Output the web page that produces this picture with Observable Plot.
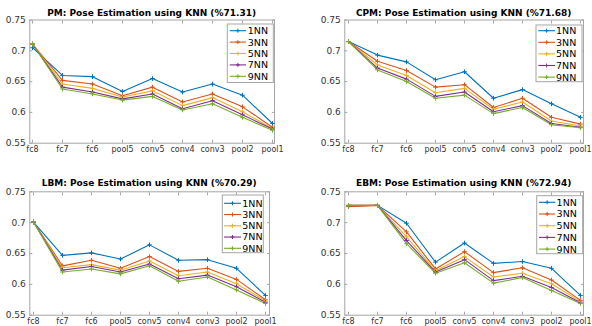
<!DOCTYPE html>
<html><head><meta charset="utf-8">
<script src="https://cdn.jsdelivr.net/npm/d3@7"></script>
<script src="https://cdn.jsdelivr.net/npm/@observablehq/plot@0.6"></script>
<style>
body{margin:0;background:#fff;}
#wrap{position:relative;width:592px;height:326px;overflow:hidden;background:#fff;}
#wrap svg{position:absolute;}
</style></head><body><div id="wrap"></div>
<script>
const layers = ["fc8","fc7","fc6","pool5","conv5","conv4","conv3","pool2","pool1"];
const series = ["1NN","3NN","5NN","7NN","9NN"];
const colors = ["#0072BD","#D95319","#EDB120","#7E2F8E","#77AC30"];
const yTicks = [0.55,0.6,0.65,0.7,0.75];
const titles = [
  "PM: Pose Estimation using KNN (%71.31)",
  "CPM: Pose Estimation using KNN (%71.68)",
  "LBM: Pose Estimation using KNN (%70.29)",
  "EBM: Pose Estimation using KNN (%72.94)"
];
// rows: 1NN, 3NN, 5NN, 7NN, 9NN ; columns follow layers
const pmValues = [
  [0.705,0.660,0.658,0.634,0.655,0.633,0.646,0.628,0.582],
  [0.711,0.652,0.646,0.627,0.641,0.617,0.630,0.609,0.576],
  [0.711,0.646,0.639,0.625,0.635,0.611,0.624,0.601,0.574],
  [0.711,0.641,0.633,0.622,0.630,0.606,0.619,0.596,0.573],
  [0.711,0.638,0.630,0.620,0.626,0.604,0.614,0.592,0.571]
];
const cpmValues = [
  [0.715,0.693,0.682,0.653,0.666,0.623,0.637,0.614,0.592],
  [0.715,0.683,0.668,0.641,0.645,0.608,0.623,0.592,0.581],
  [0.715,0.677,0.660,0.632,0.639,0.605,0.617,0.586,0.578],
  [0.715,0.672,0.654,0.626,0.633,0.601,0.611,0.582,0.576],
  [0.715,0.669,0.650,0.623,0.628,0.598,0.608,0.580,0.575]
];
const lbmValues = [
  [0.701,0.647,0.651,0.641,0.664,0.639,0.640,0.626,0.582],
  [0.701,0.630,0.639,0.626,0.645,0.621,0.626,0.608,0.575],
  [0.701,0.627,0.632,0.623,0.638,0.614,0.620,0.601,0.573],
  [0.701,0.623,0.629,0.620,0.633,0.609,0.615,0.596,0.571],
  [0.701,0.620,0.625,0.617,0.630,0.605,0.612,0.591,0.569]
];
const ebmValues = [
  [0.727,0.728,0.699,0.636,0.667,0.634,0.637,0.626,0.582],
  [0.726,0.728,0.685,0.625,0.653,0.619,0.627,0.607,0.574],
  [0.728,0.728,0.677,0.622,0.645,0.612,0.618,0.601,0.572],
  [0.728,0.728,0.671,0.620,0.640,0.606,0.613,0.595,0.570],
  [0.728,0.728,0.666,0.618,0.635,0.602,0.611,0.590,0.569]
];
const panelValues = [pmValues, cpmValues, lbmValues, ebmValues];

// layout (pixels)
const layout = [
  {left:0,   top:0,   mL:29.3, mR:22,  mT:19.5, mB:20.3, titleY:16,   lg:{x:227.3,y:24,  w:46, h:58.5, y0:30.7, dy:11.4, l0:229.8, l1:246, tx:247.8}},
  {left:296, top:0,   mL:48.3, mR:9,   mT:19.5, mB:20.3, titleY:16,   lg:{x:240,  y:25,  w:46, h:56.7, y0:30.7, dy:11.6, l0:242.3, l1:259, tx:260}},
  {left:0,   top:163, mL:29.3, mR:27,  mT:28.3, mB:11.3, titleY:23.3, lg:{x:222.3,y:32,  w:41, h:57.7, y0:40.3, dy:11.25,l0:224, l1:241, tx:242.3}},
  {left:296, top:163, mL:48.3, mR:9,   mT:28.3, mB:11.3, titleY:23.3, lg:{x:240.7,y:32.7,w:46, h:58,   y0:39.3, dy:11.7, l0:243, l1:259.3, tx:260.6}}
];
const axisGray = "#a6a6a6";
const textGray = "#333333";
const font = "DejaVu Sans";
const wrap = document.getElementById("wrap");

panelValues.forEach((values, pi) => {
  const L = layout[pi];
  const data = [];
  values.forEach((row, si) => row.forEach((v, li) => data.push({layer: layers[li], k: series[si], v})));
  const W = 296, H = 163;
  const svg = Plot.plot({
    width: W, height: H,
    marginLeft: L.mL, marginRight: L.mR, marginTop: L.mT, marginBottom: L.mB,
    style: {fontFamily: font, background: "transparent", overflow: "visible"},
    x: {type: "point", domain: layers, padding: 0, label: null},
    y: {domain: [0.55, 0.75], label: null},
    color: {domain: series, range: colors},
    marks: [
      Plot.frame({stroke: axisGray, strokeWidth: 1}),
      Plot.axisX({anchor: "bottom", tickSize: -3, tickFormat: () => "", label: null, stroke: axisGray}),
      Plot.axisX({anchor: "top", tickSize: -3, tickFormat: () => "", label: null, stroke: axisGray}),
      Plot.axisY({anchor: "left", ticks: yTicks, tickSize: -3, tickFormat: () => "", label: null, stroke: axisGray}),
      Plot.axisY({anchor: "right", ticks: yTicks, tickSize: -3, tickFormat: () => "", label: null, stroke: axisGray}),
      Plot.axisX({anchor: "bottom", tickSize: 0, tickPadding: 3, label: null, fontSize: 8, fill: textGray}),
      Plot.axisY({anchor: "left", ticks: yTicks, tickSize: 0, tickPadding: 4, tickFormat: d => String(d), label: null, fontSize: 9, fill: textGray}),
      Plot.line(data, {x: "layer", y: "v", stroke: "k", z: "k", strokeWidth: 1.1}),
      Plot.dot(data, {x: "layer", y: "v", stroke: "k", symbol: "plus", r: 1.6, strokeWidth: 1})
    ]
  });
  svg.style.left = L.left + "px";
  svg.style.top = L.top + "px";
  const s = d3.select(svg);
  s.append("text")
    .attr("x", L.mL + (W - L.mL - L.mR) / 2).attr("y", L.titleY)
    .attr("text-anchor", "middle").attr("font-family", font)
    .attr("font-weight", "bold").attr("font-size", 9).attr("fill", "#000")
    .text(titles[pi]);
  const g = s.append("g").attr("text-anchor", "start");
  const lg = L.lg;
  g.append("rect").attr("x", lg.x).attr("y", lg.y).attr("width", lg.w).attr("height", lg.h)
    .attr("fill", "#fff").attr("stroke", axisGray).attr("stroke-width", 1);
  series.forEach((name, i) => {
    const yy = lg.y0 + i * lg.dy;
    g.append("line").attr("x1", lg.l0).attr("x2", lg.l1).attr("y1", yy).attr("y2", yy)
      .attr("stroke", colors[i]).attr("stroke-width", 1.1);
    const mx = (lg.l0 + lg.l1) / 2;
    g.append("path").attr("d", `M${mx-2},${yy}H${mx+2}M${mx},${yy-2}V${yy+2}`)
      .attr("stroke", colors[i]).attr("stroke-width", 1).attr("fill", "none");
    g.append("text").attr("x", lg.tx).attr("y", yy).attr("dy", "0.36em")
      .attr("text-anchor", "start")
      .attr("font-family", font).attr("font-size", 9.5).attr("fill", "#000").text(name);
  });
  wrap.appendChild(svg);
});
</script>
</body></html>
